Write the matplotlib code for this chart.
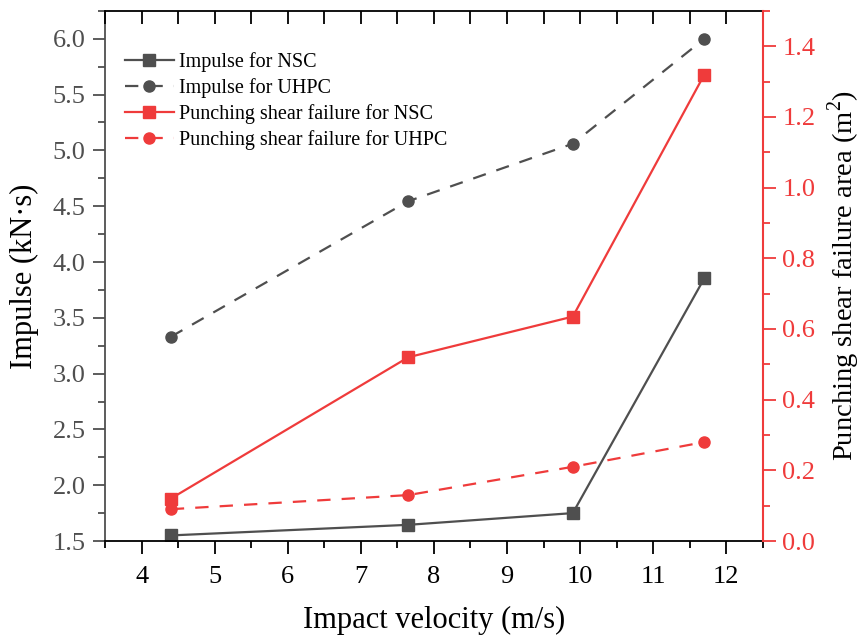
import matplotlib
matplotlib.use("Agg")
import matplotlib.pyplot as plt
from matplotlib.ticker import MultipleLocator

plt.rcParams['font.family'] = ['Liberation Serif', 'DejaVu Serif']
plt.rcParams['mathtext.fontset'] = 'custom'
plt.rcParams['mathtext.rm'] = 'Liberation Serif'

velocity = [4.4, 7.65, 9.9, 11.7]
impulse_nsc = [1.55, 1.645, 1.75, 3.855]
impulse_uhpc = [3.33, 4.545, 5.06, 6.0]
punch_nsc = [0.12, 0.52, 0.635, 1.32]
punch_uhpc = [0.09, 0.13, 0.21, 0.28]

GRAY = '#4f4f4f'
RED = '#ef3b3b'

fig = plt.figure(figsize=(8.61, 6.41), dpi=100)
ax = fig.add_axes([0.122, 0.156, 0.764, 0.827])
ax2 = ax.twinx()

l1, = ax.plot(velocity, impulse_nsc, color=GRAY, lw=1.6, marker='s', ms=8,
              label='Impulse for NSC')
l2, = ax.plot(velocity, impulse_uhpc, color=GRAY, lw=1.6, marker='o', ms=8,
              ls=(0, (6, 5)), label='Impulse for UHPC')
l3, = ax2.plot(velocity, punch_nsc, color=RED, lw=1.6, marker='s', ms=8,
               label='Punching shear failure for NSC')
l4, = ax2.plot(velocity, punch_uhpc, color=RED, lw=1.6, marker='o', ms=8,
               ls=(0, (6, 5)), label='Punching shear failure for UHPC')

ax.set_xlim(3.5, 12.5)
ax.set_ylim(1.5, 6.25)
ax2.set_ylim(0, 1.5)

ax.xaxis.set_major_locator(MultipleLocator(1))
ax.xaxis.set_minor_locator(MultipleLocator(0.5))
ax.yaxis.set_major_locator(MultipleLocator(0.5))
ax.yaxis.set_minor_locator(MultipleLocator(0.25))
ax2.yaxis.set_major_locator(MultipleLocator(0.2))
ax2.yaxis.set_minor_locator(MultipleLocator(0.1))

# bottom ticks outward
ax.tick_params(axis='x', which='major', direction='out', length=9, width=1.3,
               labelsize=19, colors='black', pad=9, top=False)
ax.tick_params(axis='x', which='minor', direction='out', length=5, width=1.3,
               top=False)
# top ticks inward, drawn on the twin's x axis
ax2.xaxis.set_visible(True)
ax2.tick_params(axis='x', which='both', direction='in', length=9, width=1.3,
                top=True, bottom=False, labeltop=False, labelbottom=False)

ax.tick_params(axis='y', which='major', direction='out', length=9, width=1.3,
               labelsize=19, color=GRAY, labelcolor=GRAY, pad=5)
ax.tick_params(axis='y', which='minor', direction='out', length=5, width=1.3,
               color=GRAY)

ax2.tick_params(axis='y', which='major', direction='out', length=9, width=1.3,
                labelsize=19, color=RED, labelcolor=RED, pad=5)
ax2.tick_params(axis='y', which='minor', direction='out', length=5, width=1.3,
                color=RED)

for s in ['bottom', 'top']:
    ax.spines[s].set_color('black')
    ax.spines[s].set_linewidth(1.3)
ax.spines['left'].set_color(GRAY)
ax.spines['left'].set_linewidth(1.3)
ax2.spines['right'].set_color(RED)
ax2.spines['right'].set_linewidth(1.5)
ax2.spines['left'].set_visible(False)
ax2.spines['top'].set_visible(False)
ax2.spines['bottom'].set_visible(False)
ax.spines['right'].set_visible(False)

ax.set_xlabel('Impact velocity (m/s)', fontsize=22, labelpad=13)
ax.set_ylabel('Impulse (kN·s)', fontsize=22, labelpad=10)
ax2.set_ylabel('Punching shear failure area (m$^2$)', fontsize=20.5, labelpad=7)

leg = ax.legend(handles=[l1, l2, l3, l4], loc='upper left',
                bbox_to_anchor=(0.0, 0.96), frameon=False, fontsize=14.5,
                handlelength=2.4, handletextpad=0.25, labelspacing=0.3,
                borderaxespad=0.6)

fig.savefig('out.png', dpi=100)
